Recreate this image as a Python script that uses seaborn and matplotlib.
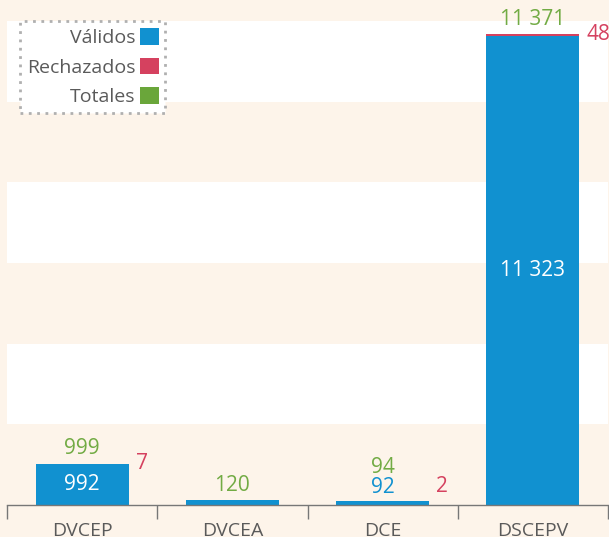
import matplotlib
matplotlib.use("Agg")
import pandas as pd
import seaborn as sns
from matplotlib import pyplot as plt
from matplotlib.patches import Patch

# === Data ===
categories = ["DVCEP", "DVCEA", "DCE", "DSCEPV"]
validos = [992, 120, 92, 11323]
rechazados = [7, 0, 2, 48]
totales = [999, 120, 94, 11371]
legend_labels = ["Válidos", "Rechazados", "Totales"]

# === Style ===
BLUE = "#1191d0"
RED = "#d5415f"
GREEN = "#6aa63a"
GREEN_TEXT = "#72ab44"
CREAM = "#fdf4ea"
GREY_TEXT = "#5a5a5a"
AXIS_GREY = "#777777"

W, H = 609, 537
AX_LEFT, AX_RIGHT, AX_TOP, AX_BOTTOM = 7, 608, 21, 505
YMAX = 11685  # axis range, bands are 1/6 of it
PT = 0.72     # points per pixel at dpi 100
VAL_FS = 15


def fmt(v):
    return f"{v:,}".replace(",", " ")


df = pd.DataFrame({
    "categoria": categories,
    "validos": validos,
    "rechazados": rechazados,
    "totales": totales,
})

sns.set_theme(style="white")
plt.rcParams["font.family"] = ["Open Sans", "DejaVu Sans"]

fig = plt.figure(figsize=(W / 100, H / 100), dpi=100, facecolor=CREAM)
ax = fig.add_axes([AX_LEFT / W, (H - AX_BOTTOM) / H,
                   (AX_RIGHT - AX_LEFT) / W, (AX_BOTTOM - AX_TOP) / H])
ax.set_facecolor(CREAM)

# alternating horizontal bands
n_bands = 6
band = YMAX / n_bands
for i in range(1, n_bands, 2):
    ax.axhspan(i * band, (i + 1) * band, color="white", lw=0, zorder=0)

# stacked bars: totals (red shows the rejected part) with valid on top
sns.barplot(data=df, x="categoria", y="totales", color=RED, saturation=1,
            width=0.62, ax=ax, zorder=2, linewidth=0, edgecolor="none")
sns.barplot(data=df, x="categoria", y="validos", color=BLUE, saturation=1,
            width=0.62, ax=ax, zorder=3, linewidth=0, edgecolor="none")

ax.set_xlim(-0.5, len(categories) - 0.5)
ax.set_ylim(0, YMAX)
ax.set_xlabel("")
ax.set_ylabel("")
ax.set_yticks([])

for side in ["top", "left", "right"]:
    ax.spines[side].set_visible(False)
ax.spines["bottom"].set_color(AXIS_GREY)
ax.spines["bottom"].set_linewidth(1)
ax.spines["bottom"].set_zorder(5)

ax.set_xticks([i - 0.5 for i in range(len(categories) + 1)], minor=True)
ax.tick_params(axis="x", which="minor", bottom=True, length=14 * PT,
               width=1, color=AXIS_GREY, direction="out")
ax.tick_params(axis="x", which="major", bottom=True, length=0, pad=12,
               labelsize=14, labelcolor=GREY_TEXT)

# value labels
px = YMAX / (AX_BOTTOM - AX_TOP)  # data units per pixel
half_w = 0.31
for i, (v, r, t) in enumerate(zip(validos, rechazados, totales)):
    label_above = False
    if r > 0:
        if v > 30 * px:
            ax.annotate(fmt(v), (i, v / 2), ha="center", va="center",
                        color="white", fontsize=VAL_FS, zorder=6)
        else:
            label_above = True
            ax.annotate(fmt(v), (i, t), xytext=(0, 14 * PT),
                        textcoords="offset points", ha="center", va="center",
                        color=BLUE, fontsize=VAL_FS, zorder=6)
        ax.annotate(fmt(r), (i + half_w, max(t, 18 * px)), xytext=(7 * PT, 0),
                    textcoords="offset points", ha="left", va="center",
                    color=RED, fontsize=VAL_FS, annotation_clip=False, zorder=6)
    dy = 34 if label_above else 15
    ax.annotate(fmt(t), (i, t), xytext=(0, dy * PT), textcoords="offset points",
                ha="center", va="center", color=GREEN_TEXT, fontsize=VAL_FS,
                annotation_clip=False, zorder=6)

# legend
handles = [Patch(facecolor=c, edgecolor="none") for c in (BLUE, RED, GREEN)]
leg = ax.legend(handles, legend_labels, loc="upper left",
                bbox_to_anchor=(13 / (AX_RIGHT - AX_LEFT), 1.0),
                borderaxespad=0, markerfirst=False, fontsize=14,
                handlelength=0.95, handleheight=0.95, handletextpad=0.25,
                labelspacing=0.55, borderpad=0.35, frameon=True,
                fancybox=False, labelcolor=GREY_TEXT)
frame = leg.get_frame()
frame.set_facecolor("white")
frame.set_alpha(1)
frame.set_edgecolor("#b0b0b0")
frame.set_linestyle((0, (1, 2)))
frame.set_linewidth(2)
leg.set_zorder(7)

fig.savefig("out.png", dpi=100, facecolor=CREAM)
plt.close(fig)
